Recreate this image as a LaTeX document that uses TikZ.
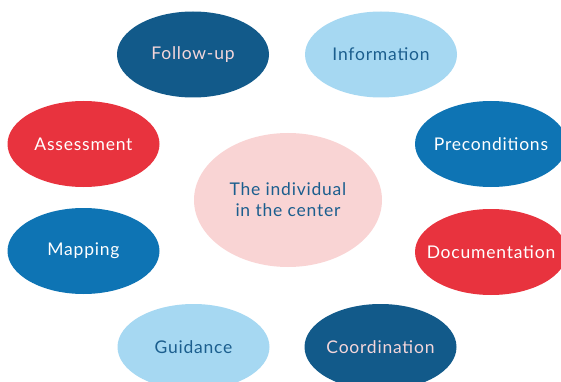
\documentclass[tikz,border=0pt]{standalone}
\usepackage{fontspec}
\setmainfont{Lato}[LetterSpace=4.5]
\usetikzlibrary{shapes.geometric}
\definecolor{darkblue}{HTML}{125A8A}
\definecolor{midblue}{HTML}{0E74B4}
\definecolor{lightblue}{HTML}{A6D8F2}
\definecolor{redc}{HTML}{E8333E}
\definecolor{pinkc}{HTML}{F9D4D4}
\definecolor{paletext}{HTML}{F4D6DA}
\definecolor{bluetext}{HTML}{1B5E8E}
\newcommand\zwlabel[1]{\makebox[0pt][c]{#1}}
\tikzset{
  bubble/.style={ellipse, inner sep=0pt, minimum width=152pt, minimum height=86pt,
    font=\fontsize{17.5}{21}\selectfont},
  bdark/.style={bubble, fill=darkblue, text=paletext},
  bmid/.style={bubble, fill=midblue, text=white},
  blight/.style={bubble, fill=lightblue, text=bluetext},
  bred/.style={bubble, fill=redc, text=white},
  bcenter/.style={ellipse, inner sep=0pt, minimum width=188pt, minimum height=134pt,
    fill=pinkc, text=bluetext, align=center, font=\fontsize{17.5}{21}\selectfont}
}
\begin{document}
\begin{tikzpicture}[x=1pt,y=-1pt]
\useasboundingbox (0,0) rectangle (561,382);
\clip (0,0) rectangle (561,382);
\node[bcenter] (center) at (288,200) {\zwlabel{The individual}\\\zwlabel{in the center}};
\node[bdark] (follow) at (193,54.5) {\zwlabel{Follow-up}};
\node[blight] (info) at (381,54.5) {\zwlabel{Information}};
\node[bred] (assess) at (83.5,144) {\zwlabel{Assessment}};
\node[bmid] (precond) at (491,144) {\zwlabel{Preconditions}};
\node[bmid] (mapping) at (83.5,251) {\zwlabel{Mapping}};
\node[bred] (doc) at (491,252) {\zwlabel{Documentation}};
\node[blight] (guide) at (193.5,347) {\zwlabel{Guidance}};
\node[bdark] (coord) at (380.5,347) {\zwlabel{Coordination}};
\end{tikzpicture}
\end{document}
